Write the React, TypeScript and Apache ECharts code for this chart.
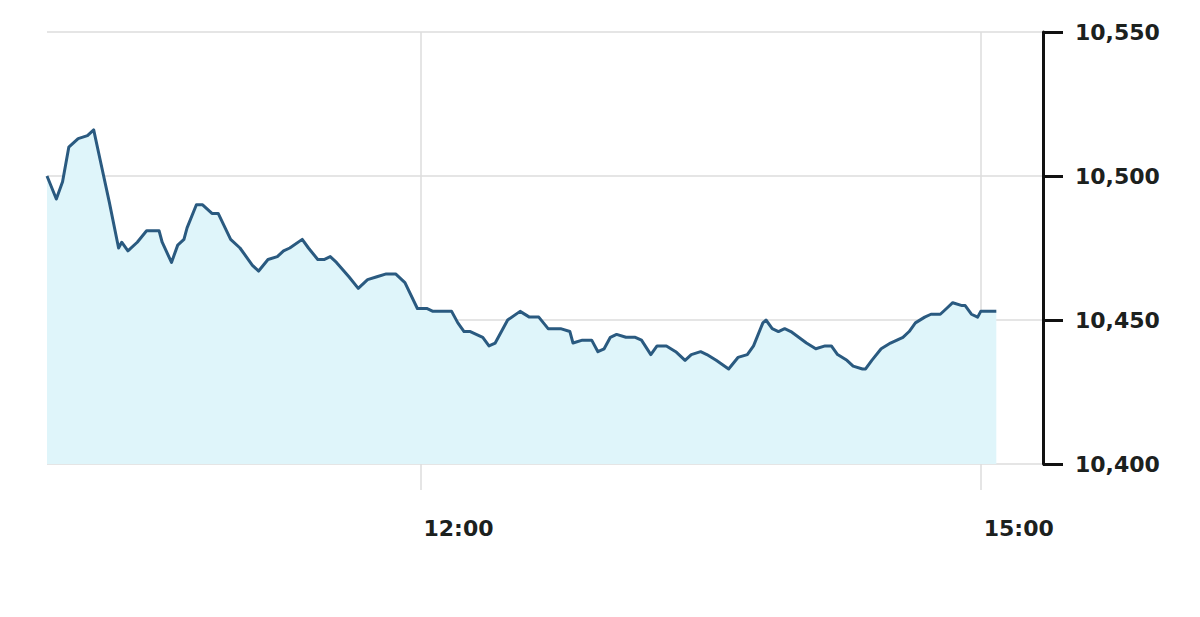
import React, { useEffect, useRef } from "react";
import * as echarts from "echarts";

// minutes since midnight
const times: number[] = [
  600, 603, 605, 607, 610, 613, 615, 617, 620, 623, 624, 626, 629, 632, 636, 637, 640, 642, 644, 645,
  648, 650, 653, 655, 659, 662, 666, 668, 671, 674, 676, 678, 682, 684, 687, 689, 691, 693, 697, 700,
  703, 706, 709, 712, 715, 719, 722, 724, 726, 728, 730, 732, 734, 736, 740, 742, 744, 748, 752, 755,
  758, 761, 765, 768, 769, 772, 775, 777, 779, 781, 783, 786, 789, 791, 794, 796, 799, 802, 805, 807,
  810, 812, 815, 819, 822, 825, 827, 830, 831, 833, 835, 837, 839, 844, 847, 850, 852, 854, 857, 859,
  862, 863, 865, 868, 871, 875, 877, 879, 882, 884, 887, 889, 891, 894, 895, 897, 899, 900, 905,
];
const values: number[] = [
  10500, 10492, 10498, 10510, 10513, 10514, 10516, 10506, 10491, 10475, 10477, 10474, 10477, 10481, 10481, 10477, 10470, 10476, 10478, 10482,
  10490, 10490, 10487, 10487, 10478, 10475, 10469, 10467, 10471, 10472, 10474, 10475, 10478, 10475, 10471, 10471, 10472, 10470, 10465, 10461,
  10464, 10465, 10466, 10466, 10463, 10454, 10454, 10453, 10453, 10453, 10453, 10449, 10446, 10446, 10444, 10441, 10442, 10450, 10453, 10451,
  10451, 10447, 10447, 10446, 10442, 10443, 10443, 10439, 10440, 10444, 10445, 10444, 10444, 10443, 10438, 10441, 10441, 10439, 10436, 10438,
  10439, 10438, 10436, 10433, 10437, 10438, 10441, 10449, 10450, 10447, 10446, 10447, 10446, 10442, 10440, 10441, 10441, 10438, 10436, 10434,
  10433, 10433, 10436, 10440, 10442, 10444, 10446, 10449, 10451, 10452, 10452, 10454, 10456, 10455, 10455, 10452, 10451, 10453, 10453,
];
const xTickValues: number[] = [720, 900];
const yMin = 10400;
const yMax = 10550;
const yStep = 50;

const fmtTime = (m: number) => `${Math.floor(m / 60)}:${String(m % 60).padStart(2, "0")}`;

export default function App() {
  const ref = useRef<HTMLDivElement>(null);
  useEffect(() => {
    if (!ref.current) return;
    const chart = echarts.init(ref.current, null, { renderer: "svg" });
    const labelFont = {
      fontFamily: "DejaVu Sans",
      fontWeight: "bold" as const,
      fontSize: 22,
      color: "#1c211e",
    };
    chart.setOption({
      animation: false,
      backgroundColor: "#ffffff",
      grid: { left: 47, right: 157, top: 32, bottom: 153 },
      xAxis: {
        type: "value",
        min: 600,
        max: 920,
        axisLine: { show: false },
        axisTick: {
          show: true,
          customValues: xTickValues,
          length: 26,
          lineStyle: { color: "#dcdcdc", width: 1.5 },
        },
        splitLine: { show: true, lineStyle: { color: "#dcdcdc", width: 1.5 } },
        axisLabel: {
          customValues: xTickValues,
          formatter: (v: number) => fmtTime(v),
          align: "left",
          margin: 53,
          padding: [0, 0, 0, 3],
          ...labelFont,
        },
      },
      yAxis: {
        type: "value",
        position: "right",
        min: yMin,
        max: yMax,
        interval: yStep,
        axisLine: { show: true, lineStyle: { color: "#111111", width: 3 } },
        axisTick: { show: true, length: 20, lineStyle: { color: "#111111", width: 3 } },
        splitLine: { show: true, lineStyle: { color: "#dcdcdc", width: 1.5 } },
        axisLabel: {
          margin: 32,
          formatter: (v: number) => v.toLocaleString("en-US"),
          ...labelFont,
        },
      },
      series: [
        {
          type: "line",
          data: times.map((t, i) => [t, values[i]]),
          showSymbol: false,
          lineStyle: { color: "#2a5a80", width: 3, join: "round" },
          areaStyle: { color: "#dff5fa", opacity: 1 },
        },
      ],
    });
    return () => chart.dispose();
  }, []);
  return (
    <div
      ref={ref}
      style={{ position: "fixed", left: 0, top: 0, width: 1200, height: 617 }}
    />
  );
}
